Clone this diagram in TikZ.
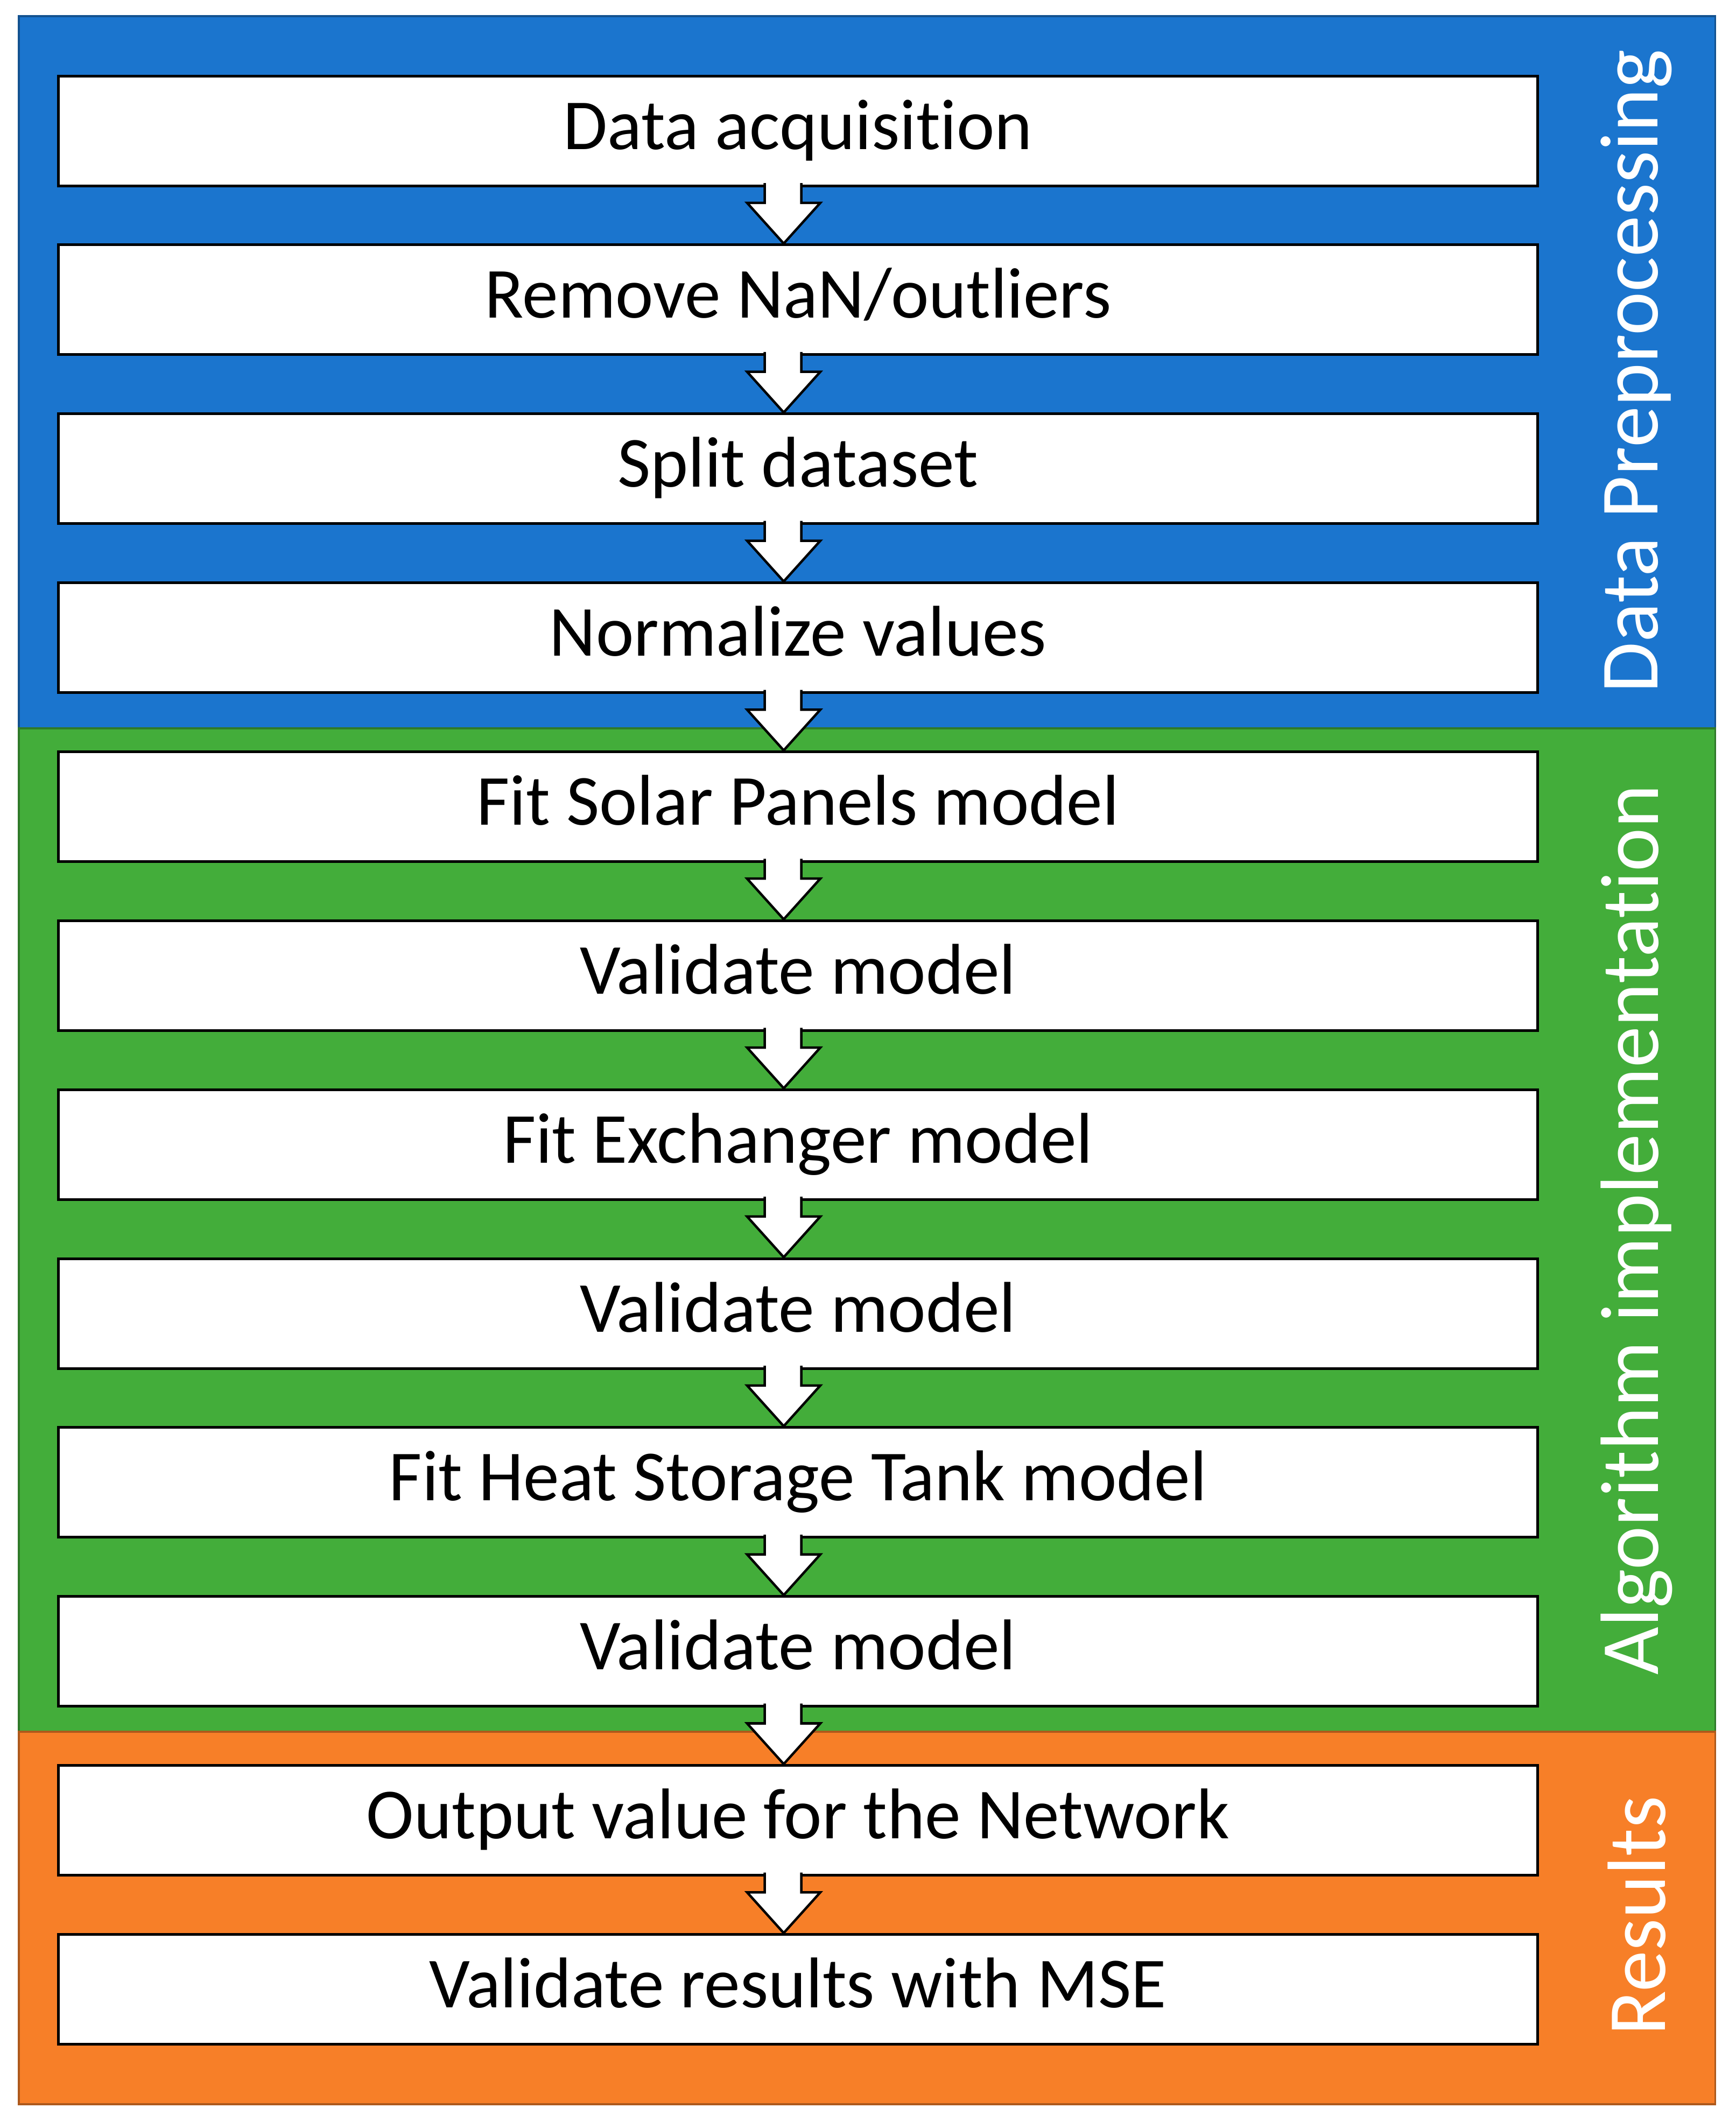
\documentclass[tikz,border=0pt]{standalone}
\usepackage{fontspec}
\setmainfont{Carlito}[Ligatures={NoCommon}]
\definecolor{cblue}{HTML}{1B75CE}
\definecolor{cgreen}{HTML}{43AD3A}
\definecolor{corange}{HTML}{F77F28}
\begin{document}
\begin{tikzpicture}[x=1pt,y=-1pt,
  band/.style={line width=1.5pt},
  box/.style={draw=black,fill=white,line width=2pt,minimum width=1091pt,minimum height=81pt,inner sep=0pt,font=\fontsize{53}{56}\selectfont,anchor=north west,text height=38pt,text depth=11pt},
  side/.style={rotate=90,text=white,font=\fontsize{61}{64}\selectfont},
  arr/.style={fill=white,draw=black,line width=1.8pt}]
\useasboundingbox (0,0) rectangle (1280,1565);
\fill[white] (0,0) rectangle (1280,1565);
\draw[band,fill=cblue,draw=cblue!70!black] (14,12) rectangle (1265,537);
\draw[band,fill=cgreen,draw=cgreen!70!black] (14,537) rectangle (1265,1277);
\draw[band,fill=corange,draw=corange!70!black] (14,1277) rectangle (1265,1552);
\node[side] (s1) at (1207,274) {Data Preprocessing};
\node[side] (s2) at (1207,907) {Algorithm implementation};
\node[side] (s3) at (1207,1413) {Results};
\foreach \i/\t in {1/{Data acquisition},2/{Remove NaN/outliers},3/{Split dataset},4/{Normalize values},5/{Fit Solar Panels model},6/{Validate model},7/{Fit Exchanger model},8/{Validate model},9/{Fit Heat Storage Tank model},10/{Validate model},11/{Output value for the Network},12/{Validate results with MSE}}{
  \pgfmathsetmacro\yy{55+124.6*(\i-1)}
  \node[box] (b\i) at (42,\yy) {\t};
}
\foreach \i in {1,...,11}{
  \pgfmathsetmacro\pb{55+124.6*(\i-1)+81}
  \pgfmathsetmacro\qt{\pb+43.6}
  \pgfmathsetmacro\hs{\qt-30}
  \filldraw[arr] (564,\pb-1) -- (564,\hs) -- (551,\hs) -- (578,\qt) -- (605,\hs) -- (591,\hs) -- (591,\pb-1);
  \fill[white] (565.2,\pb-3) rectangle (589.8,\pb+0.5);
}
\end{tikzpicture}
\end{document}
